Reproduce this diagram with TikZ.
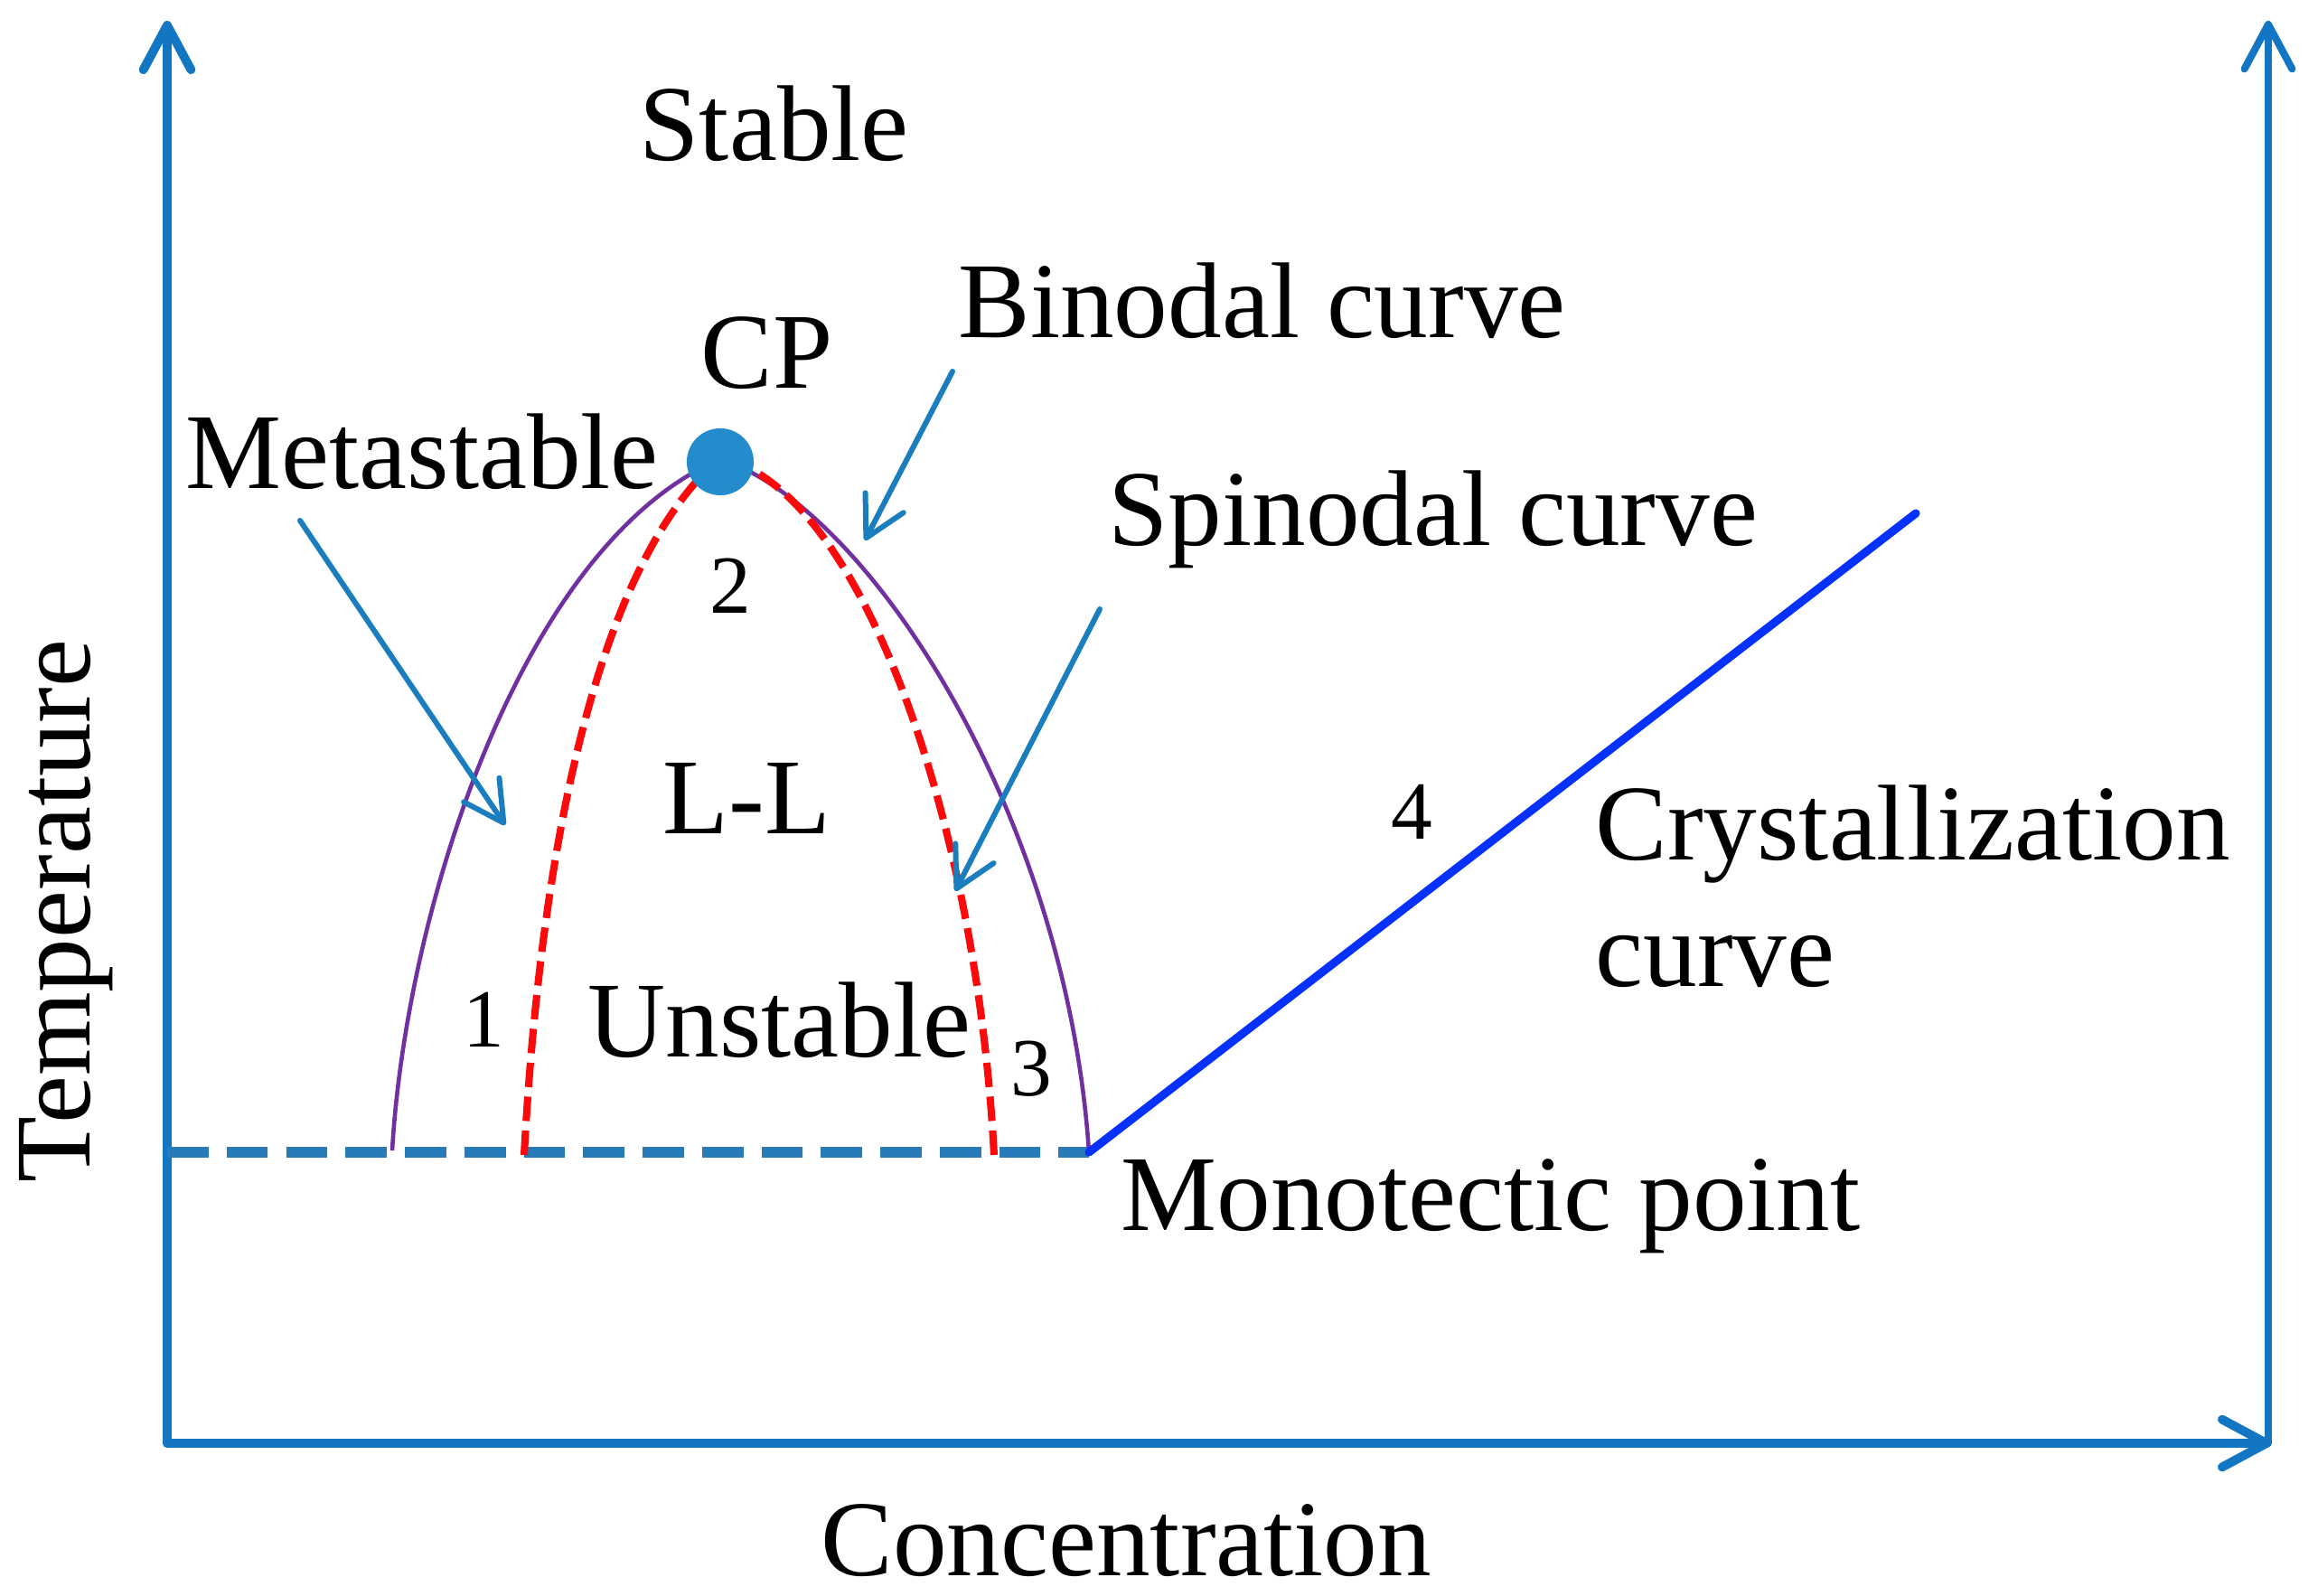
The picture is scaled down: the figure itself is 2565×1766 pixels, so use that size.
\documentclass[tikz,border=0pt]{standalone}
\usepackage{fontspec}
\setmainfont{Liberation Serif}
\usetikzlibrary{arrows.meta}
\definecolor{axisblue}{RGB}{18,118,195}
\definecolor{callblue}{RGB}{25,125,190}
\definecolor{dotblue}{RGB}{35,140,205}
\definecolor{dashblue}{RGB}{40,122,185}
\definecolor{crystblue}{RGB}{5,50,250}
\definecolor{binpurple}{RGB}{112,48,160}
\definecolor{spinred}{RGB}{250,10,10}
\tikzset{
  lbl/.style={font=\fontsize{33.9}{40}\selectfont, inner sep=0pt, anchor=base west},
  num/.style={font=\fontsize{26}{30}\selectfont, inner sep=0pt, anchor=base west},
  axisline/.style={draw=axisblue, line width=2.8pt, line cap=round, line join=round,
    -{Straight Barb[length=14pt, width=15pt, round]}},
  callout/.style={draw=callblue, line width=1.7pt, line cap=round,
    -{Straight Barb[length=12.5pt, width=13.5pt, round]}},
  binodal/.style={draw=binpurple, line width=1.3pt},
  spinodal/.style={draw=spinred, line width=2.3pt, dash pattern=on 7.7pt off 3pt},
  monoline/.style={draw=dashblue, line width=3.4pt, dash pattern=on 13pt off 5.7pt},
  crystline/.style={draw=crystblue, line width=2.6pt, line cap=round},
}
\begin{document}
\begin{tikzpicture}[x=0.01cm, y=-0.01cm]
\useasboundingbox (0,0) rectangle (2565,1766);
\fill[white] (0,0) rectangle (2565,1766);

% axes
\coordinate (O) at (185,1597);
\coordinate (TL) at (185,23);
\coordinate (BR) at (2513,1597);
\coordinate (RB) at (2510,1597);
\coordinate (TR) at (2510,23);
\draw[axisline] (O) -- (TL);
\draw[axisline] (O) -- (BR);
\draw[axisline, line width=2.3pt] (RB) -- (TR);

% monotectic dashed line
\coordinate (ML) at (185,1275);
\coordinate (MP) at (1205,1275);
\draw[monoline] (ML) -- (MP);

% binodal curve
\coordinate (BL) at (434,1273);
\coordinate (PK) at (797,508);
\draw[binodal] (BL) .. controls (450,1000) and (580,600) .. (PK)
  .. controls (960,560) and (1180,900) .. (MP);

% spinodal curve
\coordinate (SL) at (580,1278);
\coordinate (SR) at (1100,1278);
\coordinate (SK) at (797,506);
\draw[spinodal] (SL) .. controls (595,1000) and (645,640) .. (SK)
  .. controls (950,540) and (1080,900) .. (SR);

% crystallization line
\coordinate (CT) at (2120,568);
\draw[crystline] (MP) -- (CT);

% critical point
\node[circle, fill=dotblue, minimum size=0.74cm, inner sep=0pt] (cpdot) at (797,511) {};

% callouts
\coordinate (mA) at (332,576);  \coordinate (mB) at (559,913);
\coordinate (bA) at (1054,411); \coordinate (bB) at (957,598);
\coordinate (sA) at (1217,674); \coordinate (sB) at (1057,986);
\draw[callout] (mA) -- (mB);
\draw[callout] (bA) -- (bB);
\draw[callout] (sA) -- (sB);

% labels
\node[lbl] (stable) at (707,177) {Stable};
\node[lbl] (cp) at (775,429) {CP};
\node[lbl] (meta) at (205,540) {Metastable};
\node[lbl] (bin) at (1060,373) {Binodal curve};
\node[lbl] (spin) at (1226,603) {Spinodal curve};
\node[lbl] (cryst1) at (1765,951) {Crystallization};
\node[lbl] (cryst2) at (1765,1091) {curve};
\node[lbl] (mono) at (1240,1361) {Monotectic point};
\node[lbl] (conc) at (908,1743) {Concentration};
\node[lbl] (ll) at (733,922) {L-L};
\node[lbl] (unst) at (650,1169) {Unstable};
\node[num] (n1) at (512,1158) {1};
\node[num] (n2) at (785,678) {2};
\node[num] (n3) at (1118,1212) {3};
\node[num] (n4) at (1539,928) {4};
\node[font=\fontsize{33.9}{40}\selectfont, inner sep=0pt, anchor=base, rotate=90] (temp) at (100,1008) {Temperature};
\end{tikzpicture}
\end{document}
